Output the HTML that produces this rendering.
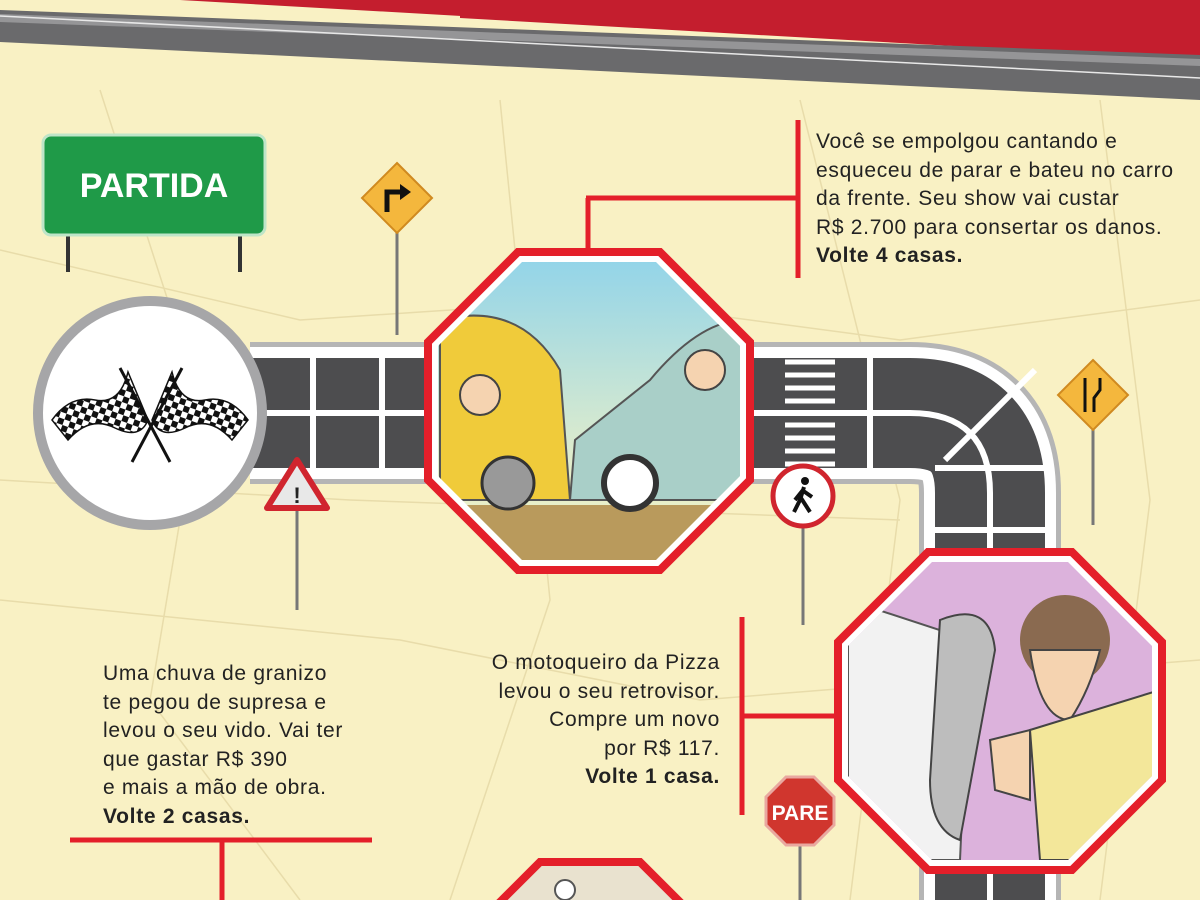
<!DOCTYPE html>
<html><head><meta charset="utf-8"><style>
html,body{margin:0;padding:0;}
body{width:1200px;height:900px;overflow:hidden;background:#f9f1c4;font-family:"Liberation Sans",sans-serif;}
.t{position:absolute;font-size:21px;letter-spacing:0.7px;line-height:28.5px;color:#222;}
</style></head><body>
<svg width="1200" height="900" style="position:absolute;left:0;top:0">
<defs>
<linearGradient id="sky" x1="0" y1="0" x2="0" y2="1"><stop offset="0" stop-color="#8fd3ea"/><stop offset="0.7" stop-color="#e8efc9"/></linearGradient>
<pattern id="chk" width="12" height="12" patternUnits="userSpaceOnUse" patternTransform="rotate(20)"><rect width="12" height="12" fill="#111"/><rect width="6" height="6" fill="#fff"/><rect x="6" y="6" width="6" height="6" fill="#fff"/></pattern>
<clipPath id="o1"><polygon points="522,262 656,262 740,346 740,476 656,560 522,560 438,476 438,346"/></clipPath>
<clipPath id="o2"><polygon points="932,562 1068,562 1152,646 1152,776 1068,860 932,860 848,776 848,646"/></clipPath>
</defs>
<rect width="1200" height="900" fill="#f9f1c4"/>
<g stroke="#e8dcaa" stroke-width="1.5" fill="none">
<path d="M0 250 L300 320 L600 300 L900 340 L1200 300"/><path d="M100 90 L200 400 L150 700 L300 900"/>
<path d="M500 100 L550 600 L450 900"/><path d="M800 100 L900 500 L850 900"/><path d="M0 600 L400 640 L700 700 L1200 660"/>
<path d="M1100 100 L1150 500 L1100 900"/><path d="M0 480 L350 500 L900 520"/>
</g>
<!-- top banner -->
<polygon points="180,0 1200,0 1200,58" fill="#c41e2e"/>
<polygon points="460,0 1200,0 1200,60 460,18" fill="#c41e2e"/>
<polygon points="0,10 1200,55 1200,100 0,42" fill="#6a6a6c"/>
<polygon points="0,14 1200,59 1200,66 0,22" fill="#959597"/>
<line x1="0" y1="16" x2="1200" y2="78" stroke="#e8e8e8" stroke-width="1.5"/>
<!-- road -->
<path d="M250 413 L910 413 Q990 413 990 493 L990 900" fill="none" stroke="#b5b5b5" stroke-width="142"/>
<path d="M250 413 L910 413 Q990 413 990 493 L990 900" fill="none" stroke="#fff" stroke-width="132"/>
<path d="M250 413 L910 413 Q990 413 990 493 L990 900" fill="none" stroke="#4d4d4f" stroke-width="110"/>
<path d="M250 413 L910 413 Q990 413 990 493 L990 900" fill="none" stroke="#fff" stroke-width="6"/>
<g stroke="#fff" stroke-width="6">
<line x1="313" y1="358" x2="313" y2="468"/><line x1="382" y1="358" x2="382" y2="468"/>
<line x1="870" y1="358" x2="870" y2="468"/>
<line x1="935" y1="468" x2="1045" y2="468"/><line x1="935" y1="530" x2="1045" y2="530"/>
<line x1="945" y1="460" x2="1035" y2="370"/>
</g>
<g stroke="#fff" stroke-width="5">
<line x1="785" y1="362" x2="835" y2="362"/><line x1="785" y1="375" x2="835" y2="375"/><line x1="785" y1="388" x2="835" y2="388"/><line x1="785" y1="401" x2="835" y2="401"/><line x1="785" y1="425" x2="835" y2="425"/><line x1="785" y1="438" x2="835" y2="438"/><line x1="785" y1="451" x2="835" y2="451"/><line x1="785" y1="464" x2="835" y2="464"/>
</g>
<!-- start circle -->
<circle cx="150" cy="413" r="112" fill="#fff" stroke="#a6a6a8" stroke-width="10"/>
<path d="M52 420 Q70 395 95 400 Q120 405 128 372 L148 420 Q140 440 115 428 Q90 415 68 440Z" fill="url(#chk)" stroke="#111" stroke-width="1.5"/>
<path d="M248 420 Q230 395 205 400 Q180 405 172 372 L152 420 Q160 440 185 428 Q210 415 232 440Z" fill="url(#chk)" stroke="#111" stroke-width="1.5"/>
<line x1="120" y1="368" x2="170" y2="462" stroke="#111" stroke-width="3"/>
<line x1="182" y1="368" x2="132" y2="462" stroke="#111" stroke-width="3"/>
<!-- partida sign -->
<line x1="68" y1="230" x2="68" y2="272" stroke="#333" stroke-width="4"/><line x1="240" y1="230" x2="240" y2="272" stroke="#333" stroke-width="4"/>
<rect x="43" y="135" width="222" height="100" rx="8" fill="#1f9a48" stroke="#bfe5c8" stroke-width="3"/>
<text x="154" y="197" text-anchor="middle" font-family="Liberation Sans" font-weight="bold" font-size="34" fill="#fff">PARTIDA</text>
<!-- turn sign -->
<line x1="397" y1="220" x2="397" y2="335" stroke="#777" stroke-width="3"/>
<polygon points="397,163 432,198 397,233 362,198" fill="#f4b73d" stroke="#d08a20" stroke-width="2"/>
<path d="M387 212 L387 192 L402 192" fill="none" stroke="#111" stroke-width="5"/><polygon points="400,184 411,192 400,200" fill="#111"/>
<!-- warning triangle -->
<line x1="297" y1="500" x2="297" y2="610" stroke="#777" stroke-width="3"/>
<polygon points="297,460 327,508 267,508" fill="#e8e8e8" stroke="#d0252e" stroke-width="6" stroke-linejoin="round"/>
<text x="297" y="503" text-anchor="middle" font-weight="bold" font-size="22" fill="#222">!</text>
<!-- narrow sign -->
<line x1="1093" y1="420" x2="1093" y2="525" stroke="#777" stroke-width="3"/>
<polygon points="1093,360 1128,395 1093,430 1058,395" fill="#f4b73d" stroke="#d08a20" stroke-width="2"/>
<path d="M1085 378 L1085 412 M1100 378 L1100 390 L1094 398 L1094 412" fill="none" stroke="#111" stroke-width="3"/>
<!-- pedestrian -->
<line x1="803" y1="520" x2="803" y2="625" stroke="#777" stroke-width="3"/>
<circle cx="803" cy="496" r="30" fill="#fff" stroke="#d0252e" stroke-width="5"/>
<circle cx="805" cy="481" r="4" fill="#111"/><path d="M804 487 L800 500 L794 512 M801 498 L810 512 M802 490 L812 497 M803 490 L795 500" stroke="#111" stroke-width="4" fill="none"/>
<!-- pare -->
<line x1="800" y1="845" x2="800" y2="900" stroke="#777" stroke-width="3"/>
<polygon points="786,777 814,777 834,797 834,825 814,845 786,845 766,825 766,797" fill="#d0362e" stroke="#e9a8a0" stroke-width="3"/>
<text x="800" y="820" text-anchor="middle" font-weight="bold" font-size="21" fill="#fff">PARE</text>
<!-- octagon 1 -->
<polygon points="518,252 660,252 750,342 750,480 660,570 518,570 428,480 428,342" fill="#fff" stroke="#e41f2a" stroke-width="8"/>
<g clip-path="url(#o1)">
<rect x="430" y="250" width="320" height="330" fill="url(#sky)"/>
<rect x="430" y="505" width="320" height="75" fill="#b99a5c"/>
<path d="M440 500 L440 320 Q520 300 560 370 L570 500Z" fill="#f0cb3a" stroke="#555" stroke-width="2"/>
<path d="M570 500 L575 440 Q600 420 650 380 Q700 320 745 320 L745 500Z" fill="#a9cfc8" stroke="#555" stroke-width="2"/>
<circle cx="508" cy="483" r="26" fill="#999" stroke="#333" stroke-width="3"/>
<circle cx="630" cy="483" r="26" fill="#fff" stroke="#333" stroke-width="6"/>
<circle cx="480" cy="395" r="20" fill="#f5d3b0" stroke="#444" stroke-width="2"/>
<circle cx="705" cy="370" r="20" fill="#f5d3b0" stroke="#444" stroke-width="2"/>
</g>
<line x1="588" y1="252" x2="588" y2="198" stroke="#e41f2a" stroke-width="5"/>
<line x1="586" y1="198" x2="800" y2="198" stroke="#e41f2a" stroke-width="5"/>
<line x1="798" y1="120" x2="798" y2="278" stroke="#e41f2a" stroke-width="5"/>
<!-- octagon 2 -->
<polygon points="928,552 1072,552 1162,642 1162,780 1072,870 928,870 838,780 838,642" fill="#fff" stroke="#e41f2a" stroke-width="8"/>
<g clip-path="url(#o2)">
<rect x="840" y="550" width="320" height="330" fill="#dcb2dc"/>
<path d="M848 600 L970 640 L960 860 L848 860Z" fill="#f2f2f2" stroke="#555" stroke-width="2"/>
<path d="M940 620 Q990 600 995 650 L960 840 Q930 830 930 780Z" fill="#bdbdbd" stroke="#444" stroke-width="2"/>
<circle cx="1065" cy="640" r="45" fill="#8a6a50"/>
<path d="M1030 650 Q1040 720 1070 720 Q1090 690 1100 650Z" fill="#f5d3b0" stroke="#444" stroke-width="2"/>
<path d="M1030 730 L1160 690 L1160 860 L1040 860Z" fill="#f3e79a" stroke="#444" stroke-width="2"/>
<path d="M990 740 L1030 730 L1030 800 L995 790Z" fill="#f5d3b0" stroke="#444" stroke-width="2"/>
</g>
<line x1="742" y1="617" x2="742" y2="815" stroke="#e41f2a" stroke-width="5"/>
<line x1="742" y1="716" x2="838" y2="716" stroke="#e41f2a" stroke-width="5"/>
<!-- octagon 3 -->
<polygon points="540,862 640,862 700,922 480,922" fill="#e9e2cf" stroke="#e41f2a" stroke-width="8"/>
<circle cx="565" cy="890" r="10" fill="#fff" stroke="#555" stroke-width="2"/>
<line x1="70" y1="840" x2="372" y2="840" stroke="#e41f2a" stroke-width="5"/>
<line x1="222" y1="840" x2="222" y2="900" stroke="#e41f2a" stroke-width="5"/>
</svg>
<div class="t" style="left:816px;top:128px;">Você se empolgou cantando e<br>esqueceu de parar e bateu no carro<br>da frente. Seu show vai custar<br>R$ 2.700 para consertar os danos.<br><b>Volte 4 casas.</b></div>
<div class="t" style="left:103px;top:660px;">Uma chuva de granizo<br>te pegou de supresa e<br>levou o seu vido. Vai ter<br>que gastar R$ 390<br>e mais a mão de obra.<br><b>Volte 2 casas.</b></div>
<div class="t" style="left:420px;top:649px;width:300px;text-align:right;">O motoqueiro da Pizza<br>levou o seu retrovisor.<br>Compre um novo<br>por R$ 117.<br><b>Volte 1 casa.</b></div>
</body></html>
